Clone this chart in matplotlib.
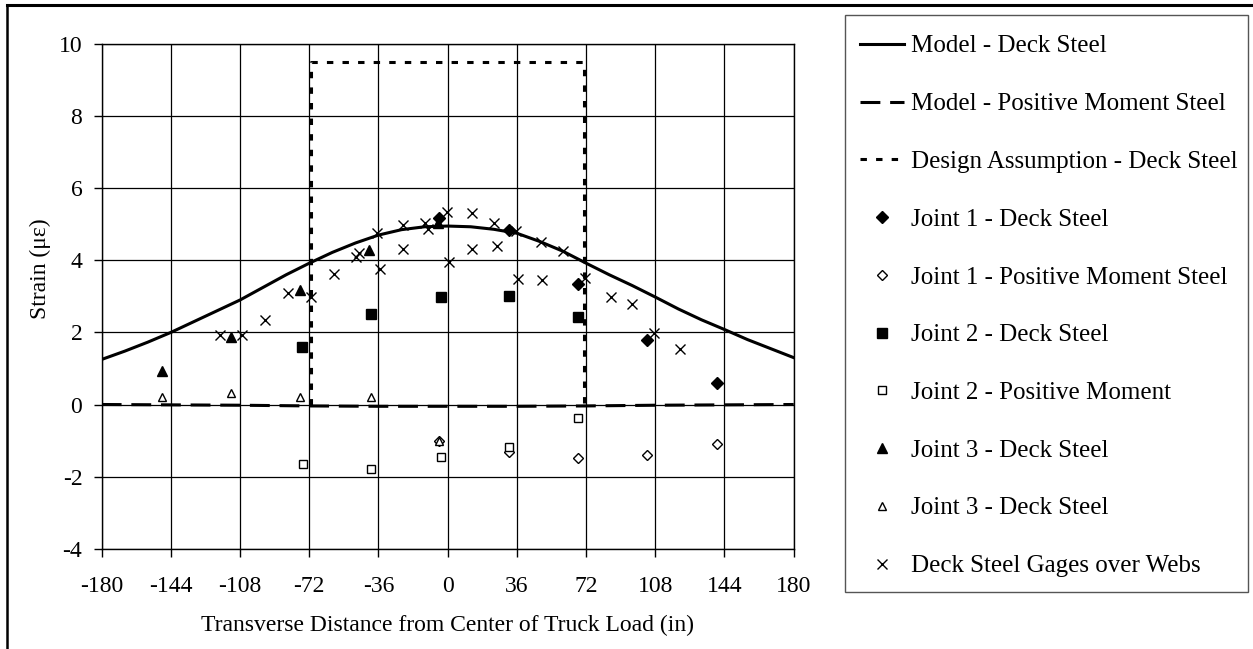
import matplotlib
matplotlib.use('Agg')
import matplotlib.pyplot as plt
from matplotlib.lines import Line2D
from matplotlib.patches import Rectangle

plt.rcParams['font.family'] = ['Liberation Serif', 'DejaVu Serif']
plt.rcParams['font.size'] = 17
plt.rcParams['axes.unicode_minus'] = False

# --- data ---
model_x = list(range(-180, 181, 12))
model_deck = [1.25, 1.48, 1.73, 2.0, 2.3, 2.6, 2.9, 3.25, 3.6, 3.92, 4.22, 4.48, 4.7,
              4.85, 4.93, 4.95, 4.93, 4.86, 4.75, 4.52, 4.25, 3.92, 3.6, 3.3, 2.98,
              2.65, 2.35, 2.08, 1.8, 1.55, 1.3]
model_pos_x = [-180, -144, -108, -72, -36, 0, 36, 72, 108, 144, 180]
model_pos = [0.0, -0.01, -0.02, -0.04, -0.05, -0.05, -0.05, -0.04, -0.02, -0.01, 0.0]

design_x = [-71, -71, 71, 71]
design_y = [0, 9.5, 9.5, 0]

j1_deck_x = [-4.4, 31.9, 67.6, 103.9, 140]
j1_deck_y = [5.17, 4.84, 3.34, 1.79, 0.59]
j1_pos_x = [-4.4, 31.9, 68, 103.5, 140]
j1_pos_y = [-1.0, -1.31, -1.48, -1.41, -1.10]

j2_deck_x = [-76, -40, -3.6, 32, 68]
j2_deck_y = [1.59, 2.5, 2.99, 3.01, 2.43]
j2_pos_x = [-75.5, -40, -3.6, 32, 68]
j2_pos_y = [-1.66, -1.80, -1.47, -1.17, -0.38]

j3_deck_x = [-148.8, -112.7, -76.8, -40.8, -4.9]
j3_deck_y = [0.94, 1.86, 3.18, 4.29, 5.03]
j3_open_x = [-148.8, -112.7, -76.8, -40, -4.4]
j3_open_y = [0.22, 0.33, 0.2, 0.2, -1.0]

webs_x = [-118.5, -107.2, -95.1, -83, -71.1, -59.2, -47.7, -46, -36.6, -35.2,
          -23.1, -23.1, -11.6, -10.2, -0.5, 0.8, 12.8, 12.8, 24.3, 25.5,
          35.4, 36.8, 48.5, 48.9, 60.2, 71.4, 84.8, 96, 107.5, 120.9]
webs_y = [1.93, 1.93, 2.34, 3.1, 2.99, 3.62, 4.10, 4.21, 4.75, 3.75,
          4.98, 4.30, 5.03, 4.86, 5.35, 3.96, 5.32, 4.30, 5.03, 4.40,
          4.82, 3.47, 4.52, 3.45, 4.27, 3.5, 2.99, 2.78, 1.99, 1.54]

x_ticks = list(range(-180, 181, 36))
y_ticks = list(range(-4, 11, 2))

W, H = 1253, 649
fig = plt.figure(figsize=(W / 100, H / 100), dpi=100)
ax = fig.add_axes([101.7 / W, 1 - 548.7 / H, (793.7 - 101.7) / W, (548.7 - 44) / H])

ax.plot(model_x, model_deck, color='black', lw=2.2, label='Model - Deck Steel')
ax.plot(model_pos_x, model_pos, color='black', lw=2.2, linestyle=(0, (6.5, 3.2)),
        label='Model - Positive Moment Steel')
ax.plot(design_x, design_y, color='black', lw=2.2, linestyle=(0, (2.1, 3.0)),
        label='Design Assumption - Deck Steel')

ax.plot(j1_deck_x, j1_deck_y, 'D', color='black', ms=6, ls='none', label='Joint 1 - Deck Steel')
ax.plot(j1_pos_x, j1_pos_y, 'D', mfc='white', mec='black', mew=1, ms=5, ls='none',
        label='Joint 1 - Positive Moment Steel')
ax.plot(j2_deck_x, j2_deck_y, 's', color='black', ms=6.5, ls='none', label='Joint 2 - Deck Steel')
ax.plot(j2_pos_x, j2_pos_y, 's', mfc='white', mec='black', mew=1, ms=6, ls='none',
        label='Joint 2 - Positive Moment')
ax.plot(j3_deck_x, j3_deck_y, '^', color='black', ms=7, ls='none', label='Joint 3 - Deck Steel')
ax.plot(j3_open_x, j3_open_y, '^', mfc='white', mec='black', mew=1, ms=6, ls='none',
        label='Joint 3 - Deck Steel')
ax.plot(webs_x, webs_y, 'x', color='black', mew=1, ms=7, ls='none',
        label='Deck Steel Gages over Webs')

ax.set_xlim(-180, 180)
ax.set_ylim(-4, 10)
ax.set_xticks(x_ticks)
ax.set_yticks(y_ticks)
ax.grid(True, color='black', lw=0.9)
ax.set_axisbelow(True)
ax.tick_params(axis='both', direction='out', length=6, width=1, colors='black', labelsize=17)
ax.tick_params(axis='y', pad=8)
ax.tick_params(axis='x', pad=14)
for s in ax.spines.values():
    s.set_linewidth(1)
    s.set_color('black')

fig.text(447.7 / W, 1 - 625 / H, 'Transverse Distance from Center of Truck Load (in)',
         ha='center', va='center', fontsize=17)
fig.text(40 / W, 1 - 269 / H, 'Strain (\u03bc\u03b5)', ha='center', va='center',
         rotation=90, fontsize=17)

# legend box and entries
fig.patches.append(Rectangle((845 / W, 1 - 592 / H), (1248 - 845) / W, (592 - 15) / H,
                             transform=fig.transFigure, fill=False, edgecolor='#555555', lw=1))
handles, labels = ax.get_legend_handles_labels()
fig.legend(handles, labels, loc='upper left', bbox_to_anchor=(860 / W, 1 - 35 / H),
           frameon=False, borderaxespad=0, borderpad=0, handlelength=1.75,
           handletextpad=0.3, labelspacing=1.41, numpoints=1, fontsize=18)

# outer chart border (top and left)
fig.add_artist(Line2D([7 / W, 1], [1 - 5 / H, 1 - 5 / H], transform=fig.transFigure,
                      color='black', lw=2.2))
fig.add_artist(Line2D([7 / W, 7 / W], [0, 1 - 5 / H], transform=fig.transFigure,
                      color='black', lw=1.8))

fig.savefig('out.png', dpi=100)
